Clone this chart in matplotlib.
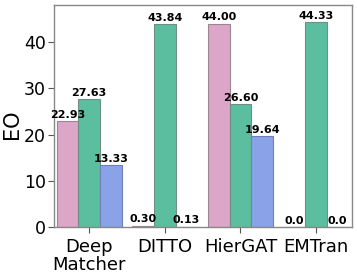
import numpy as np
import matplotlib
matplotlib.use("Agg")
from matplotlib import pyplot as plt

# Data
models = ["Deep\nMatcher", "DITTO", "HierGAT", "EMTran"]
series_a = [22.93, 0.30, 44.00, 0.0]
series_b = [27.63, 43.84, 26.60, 44.33]
series_c = [13.33, 0.13, 19.64, 0.0]
labels_a = ["22.93", "0.30", "44.00", "0.0"]
labels_b = ["27.63", "43.84", "26.60", "44.33"]
labels_c = ["13.33", "0.13", "19.64", "0.0"]

colors = ["#dca6c8", "#5bbe9e", "#8aa2e8"]
edges = ["#9a8590", "#6e8f86", "#6f7fb8"]

fig, ax = plt.subplots(figsize=(3.57, 2.78), dpi=100)
fig.subplots_adjust(left=0.152, right=0.986, top=0.982, bottom=0.183)

x = np.arange(len(models))
width = 0.285

for i, (vals, labs) in enumerate([(series_a, labels_a), (series_b, labels_b), (series_c, labels_c)]):
    bars = ax.bar(x + (i - 1) * width, vals, width, color=colors[i],
                  edgecolor=edges[i], linewidth=0.8)
    ax.bar_label(bars, labels=labs, fontsize=8, fontweight="bold", padding=1)

ax.set_xlim(-0.462, 3.475)
ax.set_ylim(0, 48)
ax.set_yticks([0, 10, 20, 30, 40])
ax.set_xticks(x)
ax.set_xticklabels(models, fontsize=13, linespacing=1.05)
ax.tick_params(axis="y", labelsize=12.5, length=4, pad=2, color="#555555")
ax.tick_params(axis="x", length=4, color="#555555")
ax.set_ylabel("EO", fontsize=15)
ax.yaxis.set_label_coords(-0.107, 0.465)

for s in ax.spines.values():
    s.set_color("#888888")
    s.set_linewidth(1)

plt.savefig("out.png", dpi=100)
